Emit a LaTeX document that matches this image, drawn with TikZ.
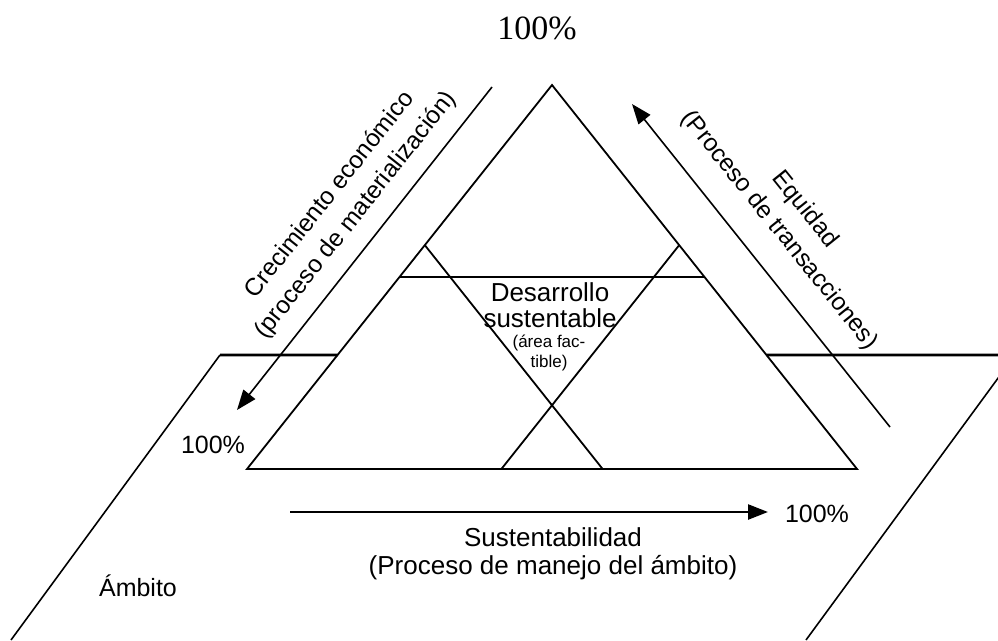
\documentclass[tikz,border=0pt]{standalone}
\usepackage{fontspec}
\setmainfont{Liberation Sans}
\newfontfamily\serifnum{Liberation Serif}
\usetikzlibrary{arrows.meta,calc}
\tikzset{
	side/.style={line width=1.8pt},
	plane/.style={line width=1.6pt},
	axisarrow/.style={line width=1.6pt, -{Triangle[length=20pt,width=15pt]}},
	lbl/.style={font=\fontsize{25}{30}\selectfont, align=center, inner sep=0pt},
	smalllbl/.style={font=\fontsize{17}{20}\selectfont, align=center, inner sep=0pt}
}
\begin{document}
\begin{tikzpicture}[x=1pt, y=-1pt]
		\useasboundingbox (0,0) rectangle (998,640);
		\clip (0,0) rectangle (998,640);

		\coordinate (apex) at (552,85);
		\coordinate (bl) at (247,469);
		\coordinate (br) at (857,469);
		\coordinate (pTL) at (220,355);
		\coordinate (pTR) at (1015,355);
		\coordinate (pBL) at (11,640);
		\coordinate (pBR) at (806,640);

		\draw[plane] (pTL) -- (pBL) (pTR) -- (pBR);
		\draw[plane, line width=2.8pt]
			(pTL) -- ($(bl)!0.297!(apex)$)
			($(br)!0.297!(apex)$) -- (pTR);

		\draw[side] (bl) -- (apex) -- (br) -- cycle;
		\draw[side]
			($(bl)!0.5!(apex)$) -- ($(br)!0.5!(apex)$)
			($(bl)!0.583!(apex)$) -- ($(bl)!0.583!(br)$)
			($(br)!0.583!(apex)$) -- ($(bl)!0.417!(br)$);

		\coordinate (crecTail) at (492,87);
		\coordinate (crecTip) at (237,410);
		\coordinate (equiTail) at (890,427);
		\coordinate (equiTip) at (632,104);
		\coordinate (sustTail) at (290,512);
		\coordinate (sustTip) at (768,512);
		\draw[axisarrow] (crecTail) -- (crecTip);
		\draw[axisarrow] (equiTail) -- (equiTip);
		\draw[axisarrow, line width=2.4pt] (sustTail) -- (sustTip);

		\node[inner sep=0pt, font=\serifnum\fontsize{34}{40}\selectfont] (topPct) at (537,28) {100\%};
		\node[lbl] (leftPct) at (213,445) {100\%};
		\node[lbl] (rightPct) at (817,514) {100\%};
		\node[lbl] (ambito) at (138,586) {Ámbito};
		\node[lbl, font=\fontsize{26}{28}\selectfont] (sust) at (553,554) {Sustentabilidad\\(Proceso de manejo del ámbito)};
		\node[lbl, font=\fontsize{26}{26}\selectfont] (desa) at (550,305) {Desarrollo\\sustentable};
		\node[smalllbl] (area) at (549,353) {(área fac-\\tible)};
		\node[lbl, rotate=51.6, font=\fontsize{24.5}{33}\selectfont] (crec) at (343,205) {Crecimiento económico\\(proceso de materialización)};
		\node[lbl, rotate=-51.2, font=\fontsize{24.5}{33}\selectfont] (equi) at (792,220) {Equidad\\(Proceso de transacciones)};
	\end{tikzpicture}
\end{document}
